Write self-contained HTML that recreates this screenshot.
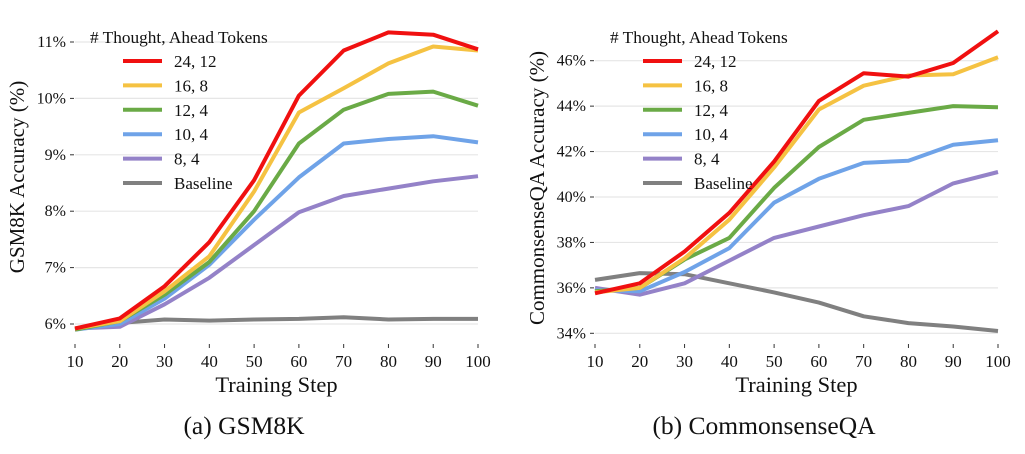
<!DOCTYPE html>
<html><head><meta charset="utf-8"><style>
html,body{margin:0;padding:0;background:#fff;}
svg{display:block;font-family:"Liberation Serif",serif;}
</style></head><body>
<svg id="s" width="1025" height="454" viewBox="0 0 1025 454" xmlns="http://www.w3.org/2000/svg"></svg>
<script>
const steps=[10,20,30,40,50,60,70,80,90,100];
const seriesNames=["24, 12","16, 8","12, 4","10, 4","8, 4","Baseline"];
const colors=["#f01010","#f5c242","#6aaa46","#6fa3e8","#9482c8","#808080"];
const gsmRed=[5.92,6.1,6.67,7.45,8.55,10.05,10.85,11.17,11.13,10.87];
const gsmYellow=[5.92,6.05,6.58,7.2,8.35,9.75,10.18,10.62,10.92,10.85];
const gsmGreen=[5.9,6.05,6.52,7.1,8.0,9.2,9.8,10.08,10.12,9.87];
const gsmBlue=[5.9,6.0,6.45,7.05,7.85,8.6,9.2,9.28,9.33,9.22];
const gsmPurple=[5.92,5.95,6.35,6.82,7.4,7.98,8.27,8.4,8.53,8.62];
const gsmBase=[5.92,6.02,6.08,6.06,6.08,6.09,6.12,6.08,6.09,6.09];
const cqaRed=[35.76,36.2,37.6,39.3,41.56,44.23,45.45,45.3,45.9,47.3];
const cqaYellow=[35.8,36.0,37.3,39.0,41.3,43.85,44.9,45.35,45.4,46.15];
const cqaGreen=[35.85,36.0,37.25,38.2,40.4,42.2,43.4,43.7,44.0,43.95];
const cqaBlue=[35.9,35.85,36.7,37.75,39.75,40.8,41.5,41.6,42.3,42.5];
const cqaPurple=[36.0,35.7,36.2,37.2,38.2,38.7,39.2,39.6,40.6,41.1];
const cqaBase=[36.35,36.65,36.6,36.2,35.8,35.35,34.75,34.45,34.3,34.1];
const gsmTicks=[6,7,8,9,10,11];
const cqaTicks=[34,36,38,40,42,44,46];

const NS="http://www.w3.org/2000/svg";
const svg=document.getElementById('s');
function mk(tag,attrs,parent,text){const e=document.createElementNS(NS,tag);for(const k in attrs)e.setAttribute(k,attrs[k]);if(text!==undefined)e.textContent=text;(parent||svg).appendChild(e);return e;}

function panel(cfg){
  const g=mk('g',{});
  
  
  const x=v=>cfg.x0+(v-10)/90*(cfg.x1-cfg.x0);
  const y=v=>cfg.yA+(v-cfg.vA)/(cfg.vB-cfg.vA)*(cfg.yB-cfg.yA);
  cfg.ticks.forEach(t=>{
    const gl=mk('line',{x1:cfg.x0,x2:cfg.x1,y1:y(t),y2:y(t),stroke:'#e6e6e6','stroke-width':1.2},g);
    
    mk('line',{x1:cfg.x0-5,x2:cfg.x0-1,y1:y(t),y2:y(t),stroke:'#333','stroke-width':1},g);
    const tl=mk('text',{x:cfg.x0-9,y:y(t)+5,'text-anchor':'end','font-size':16,fill:'#111'},g,t+'%');
    
  });
  steps.forEach(s=>{
    mk('line',{x1:x(s),x2:x(s),y1:344,y2:348,stroke:'#333','stroke-width':1},g);
    const tl=mk('text',{x:x(s),y:367,'text-anchor':'middle','font-size':17,fill:'#111'},g,s);
    
  });
  for(let i=cfg.data.length-1;i>=0;i--){
    const pts=cfg.data[i].map((v,j)=>x(steps[j]).toFixed(1)+','+y(v).toFixed(1)).join(' ');
    const pl=mk('polyline',{points:pts,fill:'none',stroke:colors[i],'stroke-width':4,'stroke-linejoin':'round'},g);
    
    
  }
  const lg=mk('g',{},g);
  
  mk('text',{x:cfg.x0+15,y:43,'font-size':17.3,fill:'#111'},lg,'# Thought, Ahead Tokens');
  seriesNames.forEach((n,i)=>{
    const yy=61+i*24.4;
    const e=mk('g',{},lg);
    
    mk('line',{x1:cfg.x0+48,x2:cfg.x0+87,y1:yy,y2:yy,stroke:colors[i],'stroke-width':4},e);
    mk('text',{x:cfg.x0+99,y:yy+6,'font-size':17,fill:'#111'},e,n);
  });
  const yt=mk('text',{x:0,y:0,'text-anchor':'middle','font-size':21,fill:'#111',transform:`translate(${cfg.ylx},${cfg.ylc}) rotate(-90)`},g,cfg.ylabel);
  
  const xt=mk('text',{x:(cfg.x0+cfg.x1)/2,y:392,'text-anchor':'middle','font-size':22.5,fill:'#111'},g,'Training Step');
  
  const cp=mk('text',{x:cfg.capx,y:434,'text-anchor':'middle','font-size':25.5,fill:'#111'},g,cfg.caption);
  
}
panel({name:'gsm8k-chart',x0:75,x1:478,vA:6,yA:324,vB:11,yB:42,ticks:gsmTicks,
  data:[gsmRed,gsmYellow,gsmGreen,gsmBlue,gsmPurple,gsmBase],ylabel:'GSM8K Accuracy (%)',ylx:24,ylc:177,caption:'(a) GSM8K',capx:244});
panel({name:'commonsenseqa-chart',x0:595,x1:998,vA:34,yA:333.3,vB:46,yB:60.7,ticks:cqaTicks,
  data:[cqaRed,cqaYellow,cqaGreen,cqaBlue,cqaPurple,cqaBase],ylabel:'CommonsenseQA Accuracy (%)',ylx:544,ylc:188,caption:'(b) CommonsenseQA',capx:764});
</script>
</body></html>
